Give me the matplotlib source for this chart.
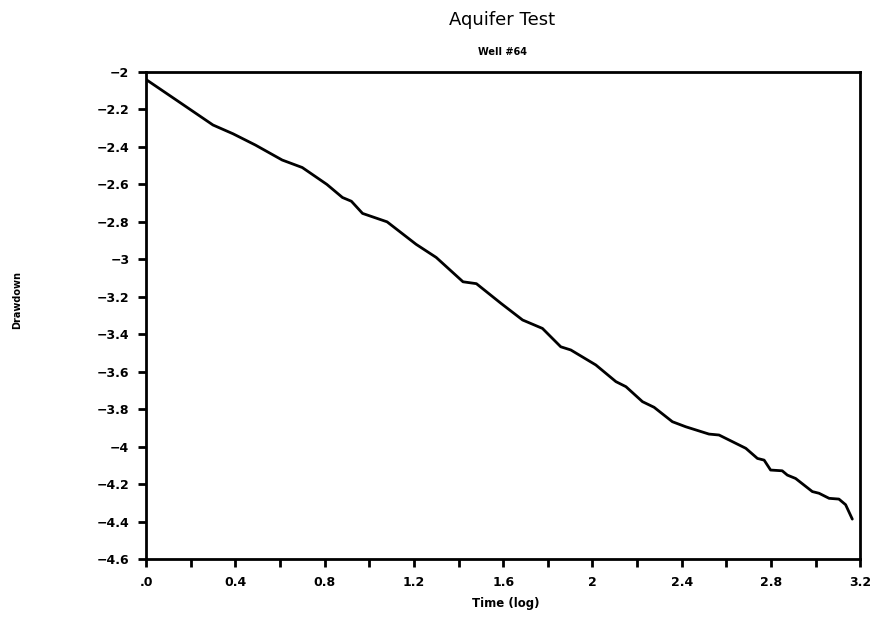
import matplotlib
matplotlib.use("Agg")
import matplotlib.pyplot as plt
import numpy as np

# drawdown curve
time_log = [0.0, 0.136, 0.30, 0.39, 0.49, 0.61, 0.70, 0.81, 0.88, 0.92, 0.97,
            1.08, 1.21, 1.30, 1.42, 1.48, 1.59, 1.687, 1.776, 1.858, 1.903,
            2.015, 2.105, 2.15, 2.224, 2.276, 2.358, 2.418, 2.522, 2.567,
            2.687, 2.739, 2.769, 2.798, 2.85, 2.873, 2.91, 2.985, 3.015,
            3.06, 3.104, 3.134, 3.164]
drawdown = [-2.04, -2.15, -2.283, -2.33, -2.39, -2.47, -2.51, -2.60, -2.67,
            -2.69, -2.755, -2.80, -2.92, -2.99, -3.12, -3.13, -3.235, -3.324,
            -3.369, -3.467, -3.484, -3.564, -3.653, -3.68, -3.76, -3.79,
            -3.867, -3.894, -3.933, -3.938, -4.009, -4.063, -4.072, -4.125,
            -4.129, -4.152, -4.17, -4.24, -4.249, -4.276, -4.28, -4.31, -4.387]

x_ticks = [0, 0.4, 0.8, 1.2, 1.6, 2.0, 2.4, 2.8, 3.2]
x_labels = [".0", "0.4", "0.8", "1.2", "1.6", "2", "2.4", "2.8", "3.2"]
y_ticks = [-2, -2.2, -2.4, -2.6, -2.8, -3, -3.2, -3.4, -3.6, -3.8, -4, -4.2, -4.4, -4.6]
y_labels = ["\u22122", "\u22122.2", "\u22122.4", "\u22122.6", "\u22122.8", "\u22123",
            "\u22123.2", "\u22123.4", "\u22123.6", "\u22123.8", "\u22124", "\u22124.2",
            "\u22124.4", "\u22124.6"]

fig = plt.figure(figsize=(8.77, 6.26), dpi=100)
ax = fig.add_axes([0.1665, 0.107, 0.8145, 0.778])

ax.plot(time_log, drawdown, color="black", linewidth=2,
        solid_joinstyle="round", solid_capstyle="round")

ax.set_xlim(0, 3.2)
ax.set_ylim(-4.6, -2)

# major ticks labelled, minor ticks every 0.2 on x
ax.set_xticks(x_ticks)
ax.set_xticklabels(x_labels, fontsize=9, fontweight="bold")
ax.set_xticks(np.arange(0.2, 3.2, 0.4), minor=True)
ax.set_yticks(y_ticks)
ax.set_yticklabels(y_labels, fontsize=9, fontweight="bold")

ax.tick_params(axis="both", which="both", direction="out", length=6, width=2, pad=6)
for s in ax.spines.values():
    s.set_linewidth(2)

fig.text(0.573, 1 - 20 / 626, "Aquifer Test", ha="center", va="center", fontsize=13)
fig.text(0.573, 1 - 52 / 626, "Well #64", ha="center", va="center", fontsize=7, fontweight="bold")
fig.text(0.577, 1 - 603 / 626, "Time (log)", ha="center", va="center", fontsize=8.5, fontweight="bold")
fig.text(17 / 877, 1 - 300 / 626, "Drawdown", ha="center", va="center", rotation=90,
         fontsize=7, fontweight="bold")

fig.savefig("out.png", dpi=100)
